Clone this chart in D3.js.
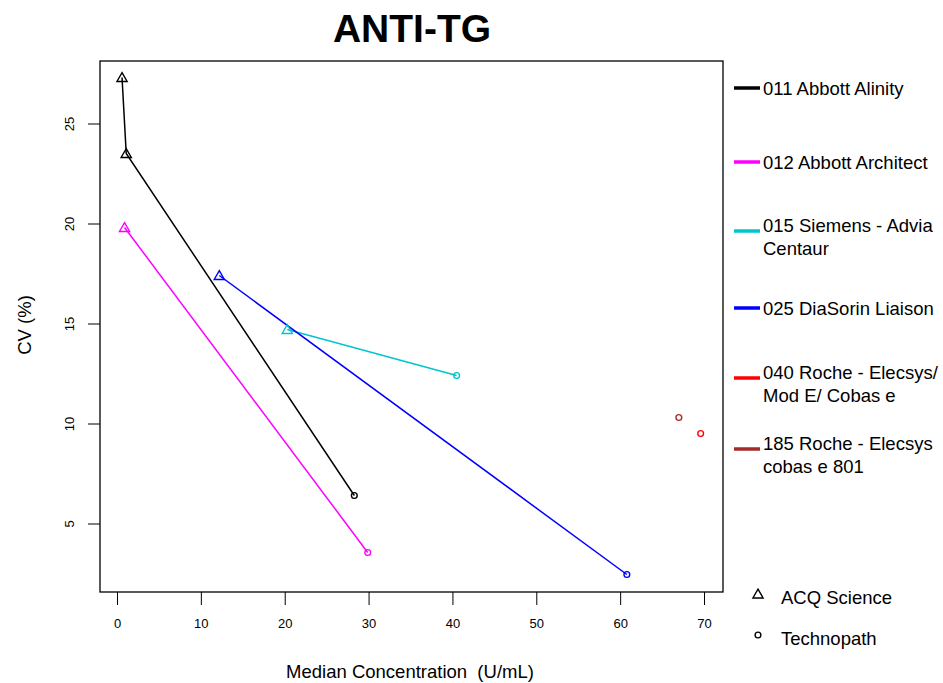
<!DOCTYPE html>
<html>
<head>
<meta charset="utf-8">
<script src="https://cdn.jsdelivr.net/npm/d3@7"></script>
<style>
  body { margin: 0; background: #fff; }
  svg { font-family: "Liberation Sans", Arial, sans-serif; }
</style>
</head>
<body>
<div id="chart"></div>
<script>
// instruments (legend order) and their colours
var instruments = ["011 Abbott Alinity", "012 Abbott Architect", "015 Siemens - Advia Centaur",
                   "025 DiaSorin Liaison", "040 Roche - Elecsys/ Mod E/ Cobas e", "185 Roche - Elecsys cobas e 801"];
var legendLines = [["011 Abbott Alinity"], ["012 Abbott Architect"], ["015 Siemens - Advia", "Centaur"],
                   ["025 DiaSorin Liaison"], ["040 Roche - Elecsys/", "Mod E/ Cobas e"], ["185 Roche - Elecsys", "cobas e 801"]];
var colors = ["#000000", "#ff00ff", "#00c5cd", "#0000ff", "#ff0000", "#a52a2a"];

// one point per control material: [instrument index, median, CV, material]
var pointInstrument = [0, 0, 0, 1, 1, 2, 2, 3, 3, 4, 5];
var pointMedian     = [0.6, 1.1, 28.3, 0.9, 29.9, 20.3, 40.5, 12.2, 60.8, 69.6, 67.0];
var pointCV         = [27.3, 23.5, 6.4, 19.8, 3.55, 14.7, 12.4, 17.4, 2.45, 9.5, 10.3];
var pointMaterial   = ["ACQ Science", "ACQ Science", "Technopath", "ACQ Science", "Technopath",
                       "ACQ Science", "Technopath", "ACQ Science", "Technopath", "Technopath", "Technopath"];

var xTicks = [0, 10, 20, 30, 40, 50, 60, 70];
var yTicks = [5, 10, 15, 20, 25];
var materials = ["ACQ Science", "Technopath"];

var width = 943, height = 683;
var box = {left: 100, right: 723, top: 61, bottom: 592};

var x = d3.scaleLinear().domain([0, 70]).range([117, 704]);
var y = d3.scaleLinear().domain([0, 25]).range([623.5, 123.5]);

var svg = d3.select("#chart").append("svg")
    .attr("width", width)
    .attr("height", height);

// plot frame
svg.append("rect")
    .attr("x", box.left).attr("y", box.top)
    .attr("width", box.right - box.left).attr("height", box.bottom - box.top)
    .attr("fill", "none").attr("stroke", "#000").attr("stroke-width", 1.3);

// x axis
var xaxis = d3.axisBottom(x).tickValues(xTicks).tickSize(13).tickPadding(14);
svg.append("g")
    .attr("transform", "translate(0," + box.bottom + ")")
    .call(xaxis)
    .call(function(g) { g.select(".domain").remove(); })
    .selectAll("text").style("font-size", "13px").attr("fill", "#000");

// y axis, labels parallel to the axis like R does
var yaxis = d3.axisLeft(y).tickValues(yTicks).tickSize(12);
var yg = svg.append("g")
    .attr("transform", "translate(" + box.left + ",0)")
    .call(yaxis)
    .call(function(g) { g.select(".domain").remove(); });
yg.selectAll("text")
    .style("font-size", "13px").attr("fill", "#000")
    .attr("x", 0).attr("dy", 0)
    .attr("text-anchor", "middle")
    .attr("transform", "translate(-26,0) rotate(-90)");

// lines for each instrument
instruments.forEach(function(name, i) {
    var idx = d3.range(pointInstrument.length).filter(function(k) { return pointInstrument[k] === i; });
    if (idx.length < 2) return;
    svg.append("path")
        .datum(idx)
        .attr("fill", "none")
        .attr("stroke", colors[i])
        .attr("stroke-width", 1.5)
        .attr("d", d3.line()
            .x(function(k) { return x(pointMedian[k]); })
            .y(function(k) { return y(pointCV[k]); }));
});

// markers
var tri = d3.symbol().type(d3.symbolTriangle).size(45);
var circ = d3.symbol().type(d3.symbolCircle).size(26);
var pts = d3.range(pointInstrument.length);
svg.selectAll("path.pt")
    .data(pts)
  .enter().append("path")
    .attr("class", "pt")
    .attr("transform", function(k) { return "translate(" + x(pointMedian[k]) + "," + (y(pointCV[k]) + (pointMaterial[k] === "ACQ Science" ? 1 : 0)) + ")"; })
    .attr("d", function(k) { return pointMaterial[k] === "ACQ Science" ? tri() : circ(); })
    .attr("fill", "none")
    .attr("stroke", function(k) { return colors[pointInstrument[k]]; })
    .attr("stroke-width", 1.4);

// title
svg.append("text")
    .attr("x", 412).attr("y", 42)
    .attr("text-anchor", "middle")
    .style("font-size", "39px").style("font-weight", "bold")
    .text("ANTI-TG");

// axis titles
svg.append("text")
    .attr("x", 410).attr("y", 678)
    .attr("text-anchor", "middle")
    .attr("xml:space", "preserve")
    .style("white-space", "pre")
    .style("font-size", "18.5px")
    .text("Median Concentration  (U/mL)");

svg.append("text")
    .attr("transform", "translate(31,325) rotate(-90)")
    .attr("text-anchor", "middle")
    .style("font-size", "18.5px")
    .text("CV (%)");

// instrument legend
var legendY = [88, 162, 225, 308, 372, 443];
legendLines.forEach(function(lines, i) {
    var g = svg.append("g").attr("transform", "translate(0," + legendY[i] + ")");
    g.append("line")
        .attr("x1", 734).attr("x2", 760)
        .attr("y1", lines.length > 1 ? 6 : 0).attr("y2", lines.length > 1 ? 6 : 0)
        .attr("stroke", colors[i]).attr("stroke-width", 3.5);
    lines.forEach(function(t, j) {
        g.append("text")
            .attr("x", 763).attr("y", j * 23 + 6.5)
            .style("font-size", "18.5px")
            .text(t);
    });
});

// material legend
materials.forEach(function(m, i) {
    var cy = 594 + i * 41;
    svg.append("path")
        .attr("transform", "translate(758," + (cy + (i === 0 ? 1 : 0)) + ")")
        .attr("d", i === 0 ? tri() : circ())
        .attr("fill", "none").attr("stroke", "#000").attr("stroke-width", 1.4);
    svg.append("text")
        .attr("x", 781).attr("y", cy + 10)
        .style("font-size", "18.5px")
        .text(m);
});
</script>
</body>
</html>
